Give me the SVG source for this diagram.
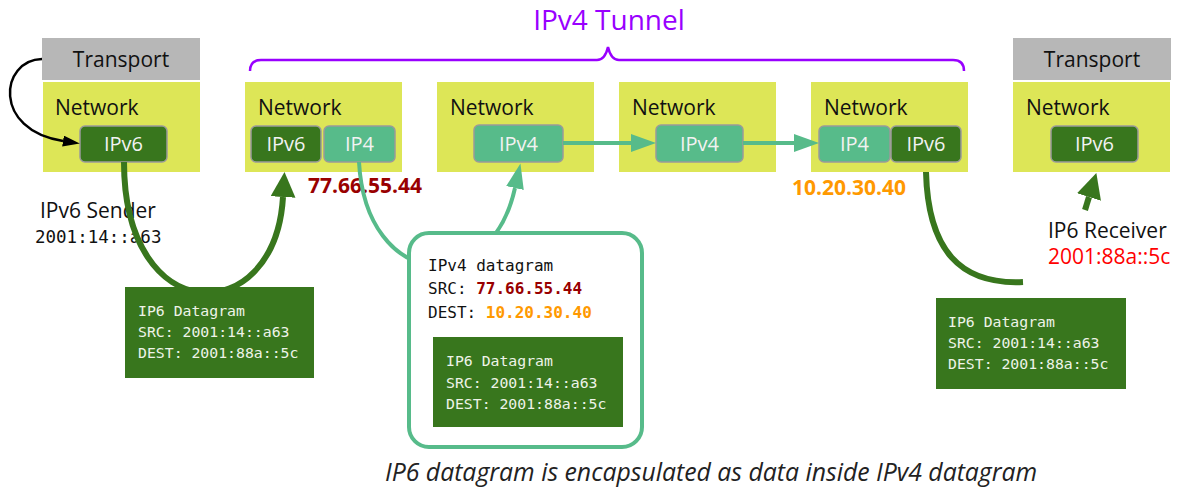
<svg xmlns="http://www.w3.org/2000/svg" width="1179" height="488" viewBox="0 0 1179 488">
  <style>
    .transport { fill: #b7b7b7; }
    .network { fill: #dde657; }
    .ip6 { fill: #38761d; stroke: #9a9a9a; stroke-width: 1.5; }
    .ip4 { fill: #57bb8a; stroke: #9a9a9a; stroke-width: 1.5; }
    .sans { font-family: "Open Sans", "Noto Sans", "Liberation Sans", sans-serif; font-size: 21px; fill: #111; }
    .chip { font-family: "Open Sans", "Noto Sans", "Liberation Sans", sans-serif; font-size: 20px; fill: #f2f2f2; text-anchor: middle; }
    .mono { font-family: "DejaVu Sans Mono", "Liberation Mono", monospace; fill: #111; }
    .dg { fill: #38761d; }
    .dgtext { font-family: "DejaVu Sans Mono", "Liberation Mono", monospace; font-size: 14.8px; fill: #eef3e8; }
    .addr { font-family: "Open Sans", "Noto Sans", "Liberation Sans", sans-serif; font-size: 21px; font-weight: bold; }
    .dark { fill: none; stroke: #38761d; stroke-width: 6; stroke-linecap: butt; }
    .light { fill: none; stroke: #57bb8a; stroke-width: 4; }
  </style>
  <defs>
    <marker id="headDark" markerUnits="userSpaceOnUse" markerWidth="26" markerHeight="26" refX="0" refY="12.5" orient="auto">
      <path d="M0,0 L25,12.5 L0,25 Z" fill="#38761d"/>
    </marker>
    <marker id="headLight" markerUnits="userSpaceOnUse" markerWidth="26" markerHeight="20" refX="0" refY="9" orient="auto">
      <path d="M0,0 L25,9 L0,18 Z" fill="#57bb8a"/>
    </marker>
    <marker id="headBlack" markerUnits="userSpaceOnUse" markerWidth="18" markerHeight="12" refX="0" refY="5.5" orient="auto">
      <path d="M0,0 L17,5.5 L0,11 Z" fill="#000"/>
    </marker>
  </defs>

  <rect width="1179" height="488" fill="#fff"/>

  <!-- tunnel brace and title -->
  <g id="tunnel">
    <text x="609" y="30" font-family="'Open Sans', 'Noto Sans', sans-serif" font-size="28" fill="#9900ff" text-anchor="middle">IPv4 Tunnel</text>
    <path d="M250,71 Q250,60 261,60 H597 Q605,60 608,47 Q611,60 619,60 H953 Q964,60 964,71" fill="none" stroke="#9900ff" stroke-width="2.5"/>
  </g>

  <!-- sender host -->
  <g id="sender">
    <rect class="transport" x="42" y="38" width="158" height="42"/>
    <text class="sans" x="121" y="67" text-anchor="middle">Transport</text>
    <rect class="network" x="43" y="82" width="157" height="90"/>
    <text class="sans" x="55" y="115">Network</text>
    <rect class="ip6" x="80" y="126" width="87" height="36" rx="5"/>
    <text class="chip" x="123.5" y="151">IPv6</text>
    <text class="sans" x="40" y="218">IPv6 Sender</text>
    <text class="mono" x="35" y="243" font-size="17.5">2001:14::a63</text>
  </g>

  <!-- tunnel entry router -->
  <g id="entry">
    <rect class="network" x="245" y="82" width="157" height="90"/>
    <text class="sans" x="258" y="115">Network</text>
    <rect class="ip6" x="251" y="126" width="70" height="36" rx="5"/>
    <text class="chip" x="286" y="151">IPv6</text>
    <rect class="ip4" x="324" y="126" width="71" height="36" rx="5"/>
    <text class="chip" x="359.5" y="151">IP4</text>
    <text class="addr" x="308" y="193" fill="#990000">77.66.55.44</text>
  </g>

  <!-- IPv4 routers -->
  <g id="router1">
    <rect class="network" x="437" y="82" width="157" height="90"/>
    <text class="sans" x="450" y="115">Network</text>
    <rect class="ip4" x="474" y="125" width="89" height="37" rx="5"/>
    <text class="chip" x="518.5" y="151">IPv4</text>
  </g>
  <g id="router2">
    <rect class="network" x="619" y="82" width="157" height="90"/>
    <text class="sans" x="632" y="115">Network</text>
    <rect class="ip4" x="656" y="125" width="87" height="37" rx="5"/>
    <text class="chip" x="699.5" y="151">IPv4</text>
  </g>

  <!-- tunnel exit router -->
  <g id="exit">
    <rect class="network" x="811" y="82" width="157" height="90"/>
    <text class="sans" x="824" y="115">Network</text>
    <rect class="ip4" x="819" y="126" width="71" height="36" rx="5"/>
    <text class="chip" x="854.5" y="151">IP4</text>
    <rect class="ip6" x="891" y="126" width="70" height="36" rx="5"/>
    <text class="chip" x="926" y="151">IPv6</text>
    <text class="addr" x="792" y="195" fill="#ff9900">10.20.30.40</text>
  </g>

  <!-- receiver host -->
  <g id="receiver">
    <rect class="transport" x="1013" y="38" width="158" height="42"/>
    <text class="sans" x="1092" y="67" text-anchor="middle">Transport</text>
    <rect class="network" x="1013" y="82" width="157" height="90"/>
    <text class="sans" x="1026" y="115">Network</text>
    <rect class="ip6" x="1051" y="126" width="87" height="36" rx="5"/>
    <text class="chip" x="1094.5" y="151">IPv6</text>
    <text class="sans" x="1048" y="238" font-size="20">IP6 Receiver</text>
    <text class="sans" x="1048" y="264" font-size="20" style="fill:#ff0000">2001:88a::5c</text>
  </g>

  <!-- connectors: above the hosts, beneath the datagram boxes -->
  <g id="connectors">
    <path d="M42,59 C0,60 -8,130 63,141" fill="none" stroke="#000" stroke-width="2.5" marker-end="url(#headBlack)"/>
    <path class="dark" d="M124,162 C124,330 275,330 283,197" marker-end="url(#headDark)"/>
    <path class="light" d="M359,162 C366,290 490,300 515,188" marker-end="url(#headLight)"/>
    <path class="light" d="M563,143 H631" marker-end="url(#headLight)"/>
    <path class="light" d="M743,143 H794" marker-end="url(#headLight)"/>
    <path class="dark" d="M926,172 C928,250 960,285 1023,282"/>
    <path class="dark" d="M1085,210 L1089,197" marker-end="url(#headDark)"/>
  </g>

  <!-- IPv6 datagram before the tunnel -->
  <g id="datagram-in">
    <rect class="dg" x="125" y="287" width="189" height="91"/>
    <text class="dgtext" x="138" y="316">IP6 Datagram</text>
    <text class="dgtext" x="138" y="337">SRC: 2001:14::a63</text>
    <text class="dgtext" x="138" y="358">DEST: 2001:88a::5c</text>
  </g>

  <!-- IPv4 datagram carrying the IPv6 datagram -->
  <g id="datagram-tunnel">
    <rect x="409" y="233" width="233" height="214" rx="20" fill="#fff" stroke="#57bb8a" stroke-width="4"/>
    <text class="mono" x="428" y="271" font-size="16">IPv4 datagram</text>
    <text class="mono" x="428" y="294" font-size="16">SRC: <tspan font-weight="bold" style="fill:#990000">77.66.55.44</tspan></text>
    <text class="mono" x="428" y="318" font-size="16">DEST: <tspan font-weight="bold" style="fill:#ff9900">10.20.30.40</tspan></text>
    <rect class="dg" x="433" y="337" width="190" height="90"/>
    <text class="dgtext" x="446" y="366">IP6 Datagram</text>
    <text class="dgtext" x="446" y="388">SRC: 2001:14::a63</text>
    <text class="dgtext" x="446" y="409">DEST: 2001:88a::5c</text>
  </g>

  <!-- IPv6 datagram after the tunnel -->
  <g id="datagram-out">
    <rect class="dg" x="936" y="298" width="190" height="91"/>
    <text class="dgtext" x="948" y="327">IP6 Datagram</text>
    <text class="dgtext" x="948" y="348">SRC: 2001:14::a63</text>
    <text class="dgtext" x="948" y="369">DEST: 2001:88a::5c</text>
  </g>

  <text id="caption" x="385" y="481" font-family="'Open Sans', 'Noto Sans', sans-serif" font-style="italic" font-size="24.8" fill="#222">IP6 datagram is encapsulated as data inside IPv4 datagram</text>
</svg>
